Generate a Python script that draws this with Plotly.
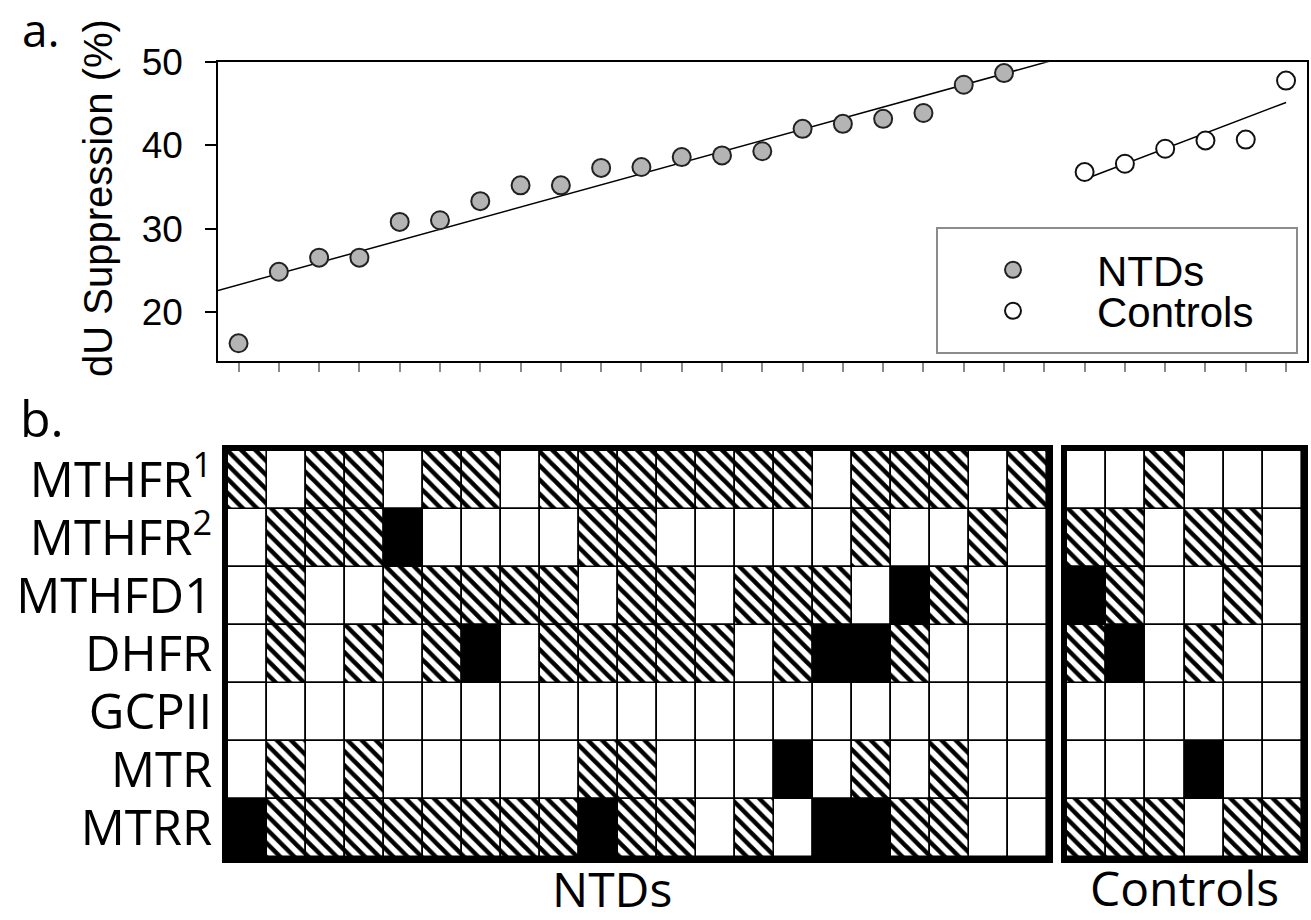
import numpy as np
import plotly.graph_objects as go

W, H = 1311, 920

# ---------------- data ----------------
ntd_values = [16.2, 24.8, 26.5, 26.5, 30.8, 31.0, 33.3, 35.2, 35.2, 37.3,
              37.4, 38.6, 38.8, 39.3, 42.0, 42.6, 43.2, 43.9, 47.3, 48.7]
control_values = [36.8, 37.8, 39.6, 40.6, 40.7, 47.8]
y_ticks = [20, 30, 40, 50]

genes = ["MTHFR<sup>1</sup>", "MTHFR<sup>2</sup>", "MTHFD1", "DHFR",
         "GCPII", "MTR", "MTRR"]
# 0 = none (white), 1 = heterozygous (hatched), 2 = homozygous (black)
ntd_mthfr1 = [1,0,1,1,0,1,1,0,1,1,1,1,1,1,1,0,1,1,1,0,1]
ntd_mthfr2 = [0,1,1,1,2,0,0,0,0,1,1,0,0,0,0,0,1,0,0,1,0]
ntd_mthfd1 = [0,1,0,0,1,1,1,1,1,0,1,1,0,1,1,1,0,2,1,0,0]
ntd_dhfr   = [0,1,0,1,0,1,2,0,1,1,1,1,1,0,1,2,2,1,0,0,0]
ntd_gcpii  = [0,0,0,0,0,0,0,0,0,0,0,0,0,0,0,0,0,0,0,0,0]
ntd_mtr    = [0,1,0,1,0,0,0,0,0,1,1,0,0,0,2,0,1,0,1,0,0]
ntd_mtrr   = [2,1,1,1,1,1,1,1,1,2,1,1,0,1,0,2,2,1,1,0,0]

ctl_mthfr1 = [0,0,1,0,0,0]
ctl_mthfr2 = [1,1,0,1,1,0]
ctl_mthfd1 = [2,1,0,0,1,0]
ctl_dhfr   = [1,2,0,1,0,0]
ctl_gcpii  = [0,0,0,0,0,0]
ctl_mtr    = [0,0,0,2,0,0]
ctl_mtrr   = [1,1,1,0,1,1]

ntd_grid = [ntd_mthfr1, ntd_mthfr2, ntd_mthfd1, ntd_dhfr, ntd_gcpii, ntd_mtr, ntd_mtrr]
ctl_grid = [ctl_mthfr1, ctl_mthfr2, ctl_mthfd1, ctl_dhfr, ctl_gcpii, ctl_mtr, ctl_mtrr]

# ---------------- helpers ----------------
def px(x):
    return x / W

def py(y):
    return 1 - y / H

ARIAL = "Liberation Sans, Arial, sans-serif"
MYRIAD = "Open Sans, Noto Sans, sans-serif"

fig = go.Figure()

# ---------------- panel a: scatter ----------------
ntd_x = list(range(1, len(ntd_values) + 1))
ctl_x = list(range(len(ntd_values) + 2, len(ntd_values) + 2 + len(control_values)))
all_ticks = list(range(1, ctl_x[-1] + 1))
x_range = [0.49, ctl_x[-1] + 0.52]
y_range = [14.07, 50]

m1, b1 = np.polyfit(ntd_x, ntd_values, 1)
xl1 = np.array([x_range[0], ntd_x[-1] + 1.5])
fig.add_trace(go.Scatter(x=xl1, y=m1 * xl1 + b1, mode="lines",
                         line=dict(color="black", width=1.5),
                         showlegend=False, hoverinfo="skip",
                         xaxis="x", yaxis="y"))
m2, b2 = np.polyfit(ctl_x, control_values, 1)
xl2 = np.array([ctl_x[0], ctl_x[-1]])
fig.add_trace(go.Scatter(x=xl2, y=m2 * xl2 + b2, mode="lines",
                         line=dict(color="black", width=1.5),
                         showlegend=False, hoverinfo="skip",
                         xaxis="x", yaxis="y"))

fig.add_trace(go.Scatter(x=ntd_x, y=ntd_values, mode="markers", name="NTDs",
                         marker=dict(size=18, color="#b4b4b4",
                                     line=dict(color="#222222", width=2)),
                         legend="legend", xaxis="x", yaxis="y"))
fig.add_trace(go.Scatter(x=ctl_x, y=control_values, mode="markers", name="Controls",
                         marker=dict(size=18, color="white",
                                     line=dict(color="#111111", width=2)),
                         legend="legend2", xaxis="x", yaxis="y"))

# ---------------- panel b: genotype grids ----------------
state_style = {
    0: dict(color="white", line=dict(color="black", width=1.6)),
    1: dict(color="white", line=dict(color="black", width=1.6),
            pattern=dict(shape="\\", size=10, solidity=0.45,
                         fgcolor="black", bgcolor="white", fillmode="replace")),
    2: dict(color="black", line=dict(color="black", width=1.6)),
}

def add_grid(grid, xa, ya):
    for s in (0, 1, 2):
        xs, bases = [], []
        for r, row in enumerate(grid):
            for c, v in enumerate(row):
                if v == s:
                    xs.append(c + 1)
                    bases.append(r)
        if xs:
            fig.add_trace(go.Bar(x=xs, y=[1] * len(xs), base=bases, width=1,
                                 marker=state_style[s], showlegend=False,
                                 hoverinfo="skip", xaxis=xa, yaxis=ya))

add_grid(ntd_grid, "x2", "y2")
add_grid(ctl_grid, "x3", "y3")

n_rows = len(genes)
grid_y_domain = [py(857), py(451)]

fig.update_layout(
    width=W, height=H, autosize=False,
    margin=dict(l=0, r=0, t=0, b=0, autoexpand=False),
    paper_bgcolor="white", plot_bgcolor="white",
    barmode="overlay", bargap=0,
    xaxis=dict(domain=[px(218), px(1307)], range=x_range, anchor="y",
               automargin=False,
               tickmode="array", tickvals=all_ticks, showticklabels=False,
               ticks="outside", ticklen=9, tickwidth=1.5, tickcolor="#8a8a8a",
               showline=True, linecolor="black", linewidth=1.5, mirror=True,
               showgrid=False, zeroline=False, fixedrange=True),
    yaxis=dict(domain=[py(361), py(62.3)], range=y_range, anchor="x",
               automargin=False,
               tickmode="array", tickvals=y_ticks,
               ticks="outside", ticklen=11, tickwidth=1.5, tickcolor="black",
               tickfont=dict(family=ARIAL, size=37, color="black"),
               ticklabelstandoff=15,
               showline=True, linecolor="black", linewidth=1.5, mirror=True,
               showgrid=False, zeroline=False, fixedrange=True),
    xaxis2=dict(domain=[px(228), px(1047)], range=[0.5, len(ntd_mthfr1) + 0.5],
                anchor="y2", automargin=False, showticklabels=False, ticks="",
                showline=True, linecolor="black", linewidth=6, mirror=True,
                showgrid=False, zeroline=False, fixedrange=True),
    yaxis2=dict(domain=grid_y_domain, range=[n_rows, 0], anchor="x2",
                automargin=False,
                tickmode="array", tickvals=[i + 0.5 for i in range(n_rows)],
                ticktext=genes, ticks="",
                tickfont=dict(family=MYRIAD, size=49, color="black"),
                showline=True, linecolor="black", linewidth=6, mirror=True,
                showgrid=False, zeroline=False, fixedrange=True),
    xaxis3=dict(domain=[px(1067), px(1302)], range=[0.5, len(ctl_mthfr1) + 0.5],
                anchor="y3", automargin=False, showticklabels=False, ticks="",
                showline=True, linecolor="black", linewidth=6, mirror=True,
                showgrid=False, zeroline=False, fixedrange=True),
    yaxis3=dict(domain=grid_y_domain, range=[n_rows, 0], anchor="x3",
                automargin=False, showticklabels=False, ticks="",
                showline=True, linecolor="black", linewidth=6, mirror=True,
                showgrid=False, zeroline=False, fixedrange=True),
    legend=dict(x=px(929), y=py(270), xanchor="left", yanchor="middle",
                bgcolor="rgba(0,0,0,0)", borderwidth=0, itemwidth=158,
                font=dict(family=ARIAL, size=42, color="black")),
    legend2=dict(x=px(929), y=py(311), xanchor="left", yanchor="middle",
                 bgcolor="rgba(0,0,0,0)", borderwidth=0, itemwidth=158,
                 font=dict(family=ARIAL, size=42, color="black")),
    shapes=[dict(type="rect", xref="paper", yref="paper",
                 x0=px(937), x1=px(1297), y0=py(353), y1=py(228),
                 line=dict(color="#8c8c8c", width=2), fillcolor="rgba(0,0,0,0)")],
    annotations=[
        dict(text="a.", x=px(20), y=py(29), xref="paper", yref="paper",
             xanchor="left", yanchor="middle", showarrow=False,
             font=dict(family=MYRIAD, size=46, color="black")),
        dict(text="b.", x=px(18), y=py(418), xref="paper", yref="paper",
             xanchor="left", yanchor="middle", showarrow=False,
             font=dict(family=MYRIAD, size=50, color="black")),
        dict(text="dU Suppression (%)", x=px(98), y=py(198), xref="paper", yref="paper",
             xanchor="center", yanchor="middle", textangle=-90, showarrow=False,
             font=dict(family=ARIAL, size=40, color="black")),
        dict(text="NTDs", x=px(612), y=py(888), xref="paper", yref="paper",
             xanchor="center", yanchor="middle", showarrow=False,
             font=dict(family=MYRIAD, size=48, color="black")),
        dict(text="Controls", x=px(1184), y=py(887), xref="paper", yref="paper",
             xanchor="center", yanchor="middle", showarrow=False,
             font=dict(family=MYRIAD, size=48, color="black")),
    ],
)

fig.write_html("out.html")
